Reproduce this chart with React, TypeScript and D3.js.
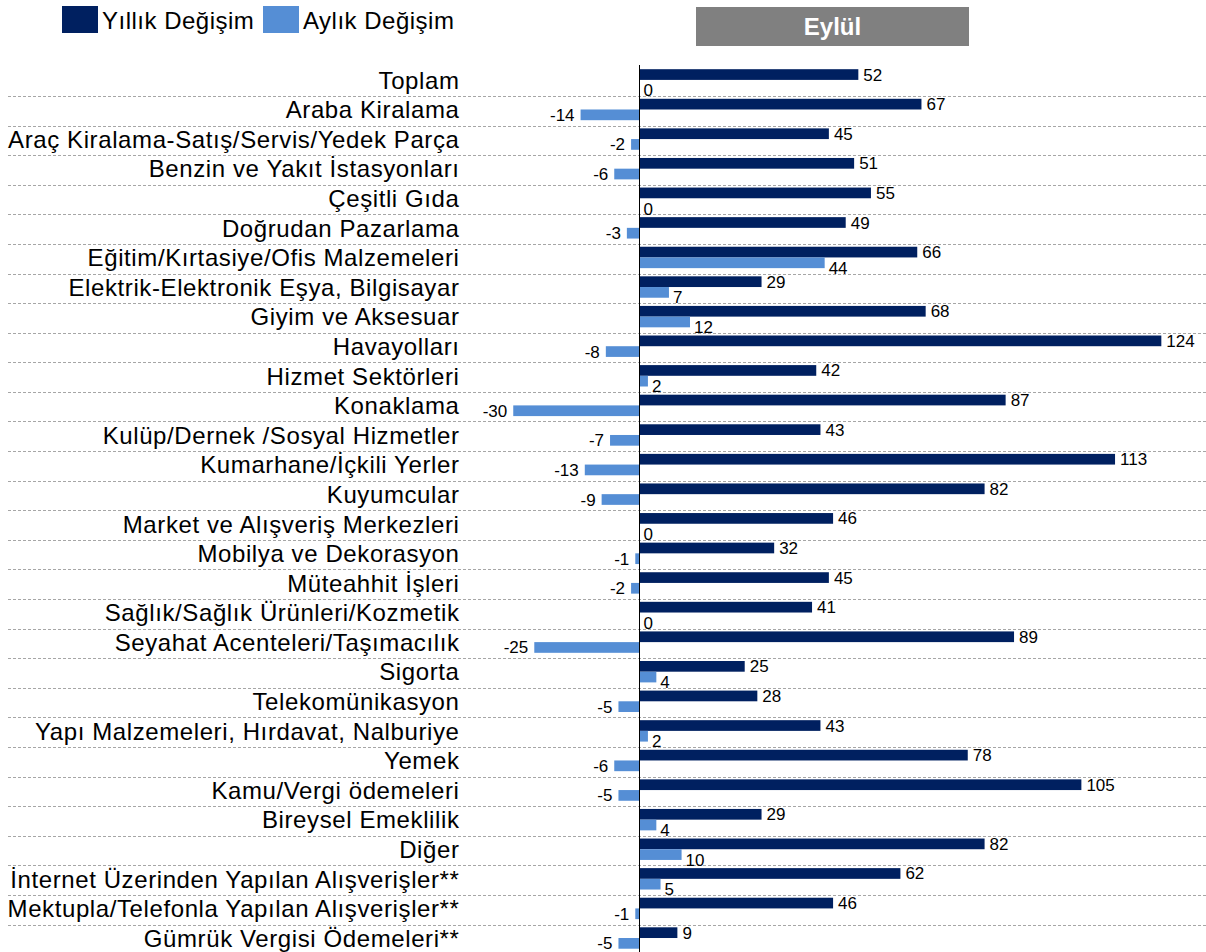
import React from "react";
import * as d3 from "d3";

const categories: string[] = [
  "Toplam",
  "Araba Kiralama",
  "Araç Kiralama-Satış/Servis/Yedek Parça",
  "Benzin ve Yakıt İstasyonları",
  "Çeşitli Gıda",
  "Doğrudan Pazarlama",
  "Eğitim/Kırtasiye/Ofis Malzemeleri",
  "Elektrik-Elektronik Eşya, Bilgisayar",
  "Giyim ve Aksesuar",
  "Havayolları",
  "Hizmet Sektörleri",
  "Konaklama",
  "Kulüp/Dernek /Sosyal Hizmetler",
  "Kumarhane/İçkili Yerler",
  "Kuyumcular",
  "Market ve Alışveriş Merkezleri",
  "Mobilya ve Dekorasyon",
  "Müteahhit İşleri",
  "Sağlık/Sağlık Ürünleri/Kozmetik",
  "Seyahat Acenteleri/Taşımacılık",
  "Sigorta",
  "Telekomünikasyon",
  "Yapı Malzemeleri, Hırdavat, Nalburiye",
  "Yemek",
  "Kamu/Vergi ödemeleri",
  "Bireysel Emeklilik",
  "Diğer",
  "İnternet Üzerinden Yapılan Alışverişler**",
  "Mektupla/Telefonla Yapılan Alışverişler**",
  "Gümrük Vergisi Ödemeleri**",
];

const yearly: number[] = [
  52, 67, 45, 51, 55, 49, 66, 29, 68, 124, 42, 87, 43, 113, 82, 46, 32, 45, 41, 89,
  25, 28, 43, 78, 105, 29, 82, 62, 46, 9,
];

const monthly: number[] = [
  0, -14, -2, -6, 0, -3, 44, 7, 12, -8, 2, -30, -7, -13, -9, 0, -1, -2, 0, -25, 4,
  -5, 2, -6, -5, 4, 10, 5, -1, -5,
];

const seriesNames: string[] = ["Yıllık Değişim", "Aylık Değişim"];
const panelTitle = "Eylül";

const DARK = "#002060";
const LIGHT = "#558ED5";
const FONT = "'Liberation Sans', Arial, sans-serif";

export default function App() {
  const W = 1206;
  const H = 952;
  const x = d3.scaleLinear().domain([-36, 132]).range([488, 1195]);
  const rowTop = 66.4;
  const pitch = 29.59;
  const y = d3
    .scaleBand<string>()
    .domain(categories)
    .range([rowTop, rowTop + pitch * categories.length])
    .padding(0);
  const x0 = x(0);
  const bw = y.bandwidth();

  return (
    <div style={{ position: "absolute", left: 0, top: 0 }}>
      <svg width={W} height={H} style={{ display: "block", fontFamily: FONT }}>
        <rect x={0} y={0} width={W} height={H} fill="#ffffff" />
        {/* legend */}
        <rect x={62} y={6} width={36} height={27} fill={DARK} />
        <text x={102} y={29} fontSize={24} letterSpacing={0.5} fill="#000">
          {seriesNames[0]}
        </text>
        <rect x={263} y={6} width={36} height={27} fill={LIGHT} />
        <text x={303} y={29} fontSize={24} letterSpacing={0.5} fill="#000">
          {seriesNames[1]}
        </text>
        {/* panel title */}
        <rect x={696} y={7} width={273} height={39} fill="#808080" />
        <text
          x={832.5}
          y={35}
          fontSize={24}
          fontWeight="bold"
          fill="#ffffff"
          textAnchor="middle"
        >
          {panelTitle}
        </text>
        {/* dashed separators */}
        {categories.slice(1).map((c) => (
          <line
            key={"g" + c}
            x1={8}
            x2={W}
            y1={Math.round(y(c)!) + 0.5}
            y2={Math.round(y(c)!) + 0.5}
            stroke="#a6a6a6"
            strokeWidth={1}
            strokeDasharray="3,2"
          />
        ))}
        {/* category labels */}
        {categories.map((c) => (
          <text
            key={"l" + c}
            x={459.5}
            y={y(c)! + bw / 2 + 7.5}
            fontSize={24}
            letterSpacing={0.6}
            textAnchor="end"
            fill="#000"
          >
            {c}
          </text>
        ))}
        {/* bars */}
        {categories.map((c, i) => {
          const top = y(c)!;
          const v1 = yearly[i];
          const v2 = monthly[i];
          const dy1 = top + 2.8;
          const dy2 = top + 13.5;
          const h = 10.7;
          return (
            <g key={"b" + c}>
              <rect
                x={Math.min(x(v1), x0)}
                y={dy1}
                width={Math.abs(x(v1) - x0)}
                height={h}
                fill={DARK}
              />
              <rect
                x={Math.min(x(v2), x0)}
                y={dy2}
                width={Math.abs(x(v2) - x0)}
                height={h}
                fill={LIGHT}
              />
              <text
                x={x(v1) + 5}
                y={dy1 + h / 2 + 6}
                fontSize={17}
                fill="#000"
              >
                {v1}
              </text>
              {v2 < 0 ? (
                <text
                  x={x(v2) - 6}
                  y={dy2 + h / 2 + 6}
                  fontSize={17}
                  textAnchor="end"
                  fill="#000"
                >
                  {v2}
                </text>
              ) : (
                <text
                  x={x(v2) + 4}
                  y={dy2 + h / 2 + 11}
                  fontSize={17}
                  fill="#000"
                >
                  {v2}
                </text>
              )}
            </g>
          );
        })}
        {/* zero axis */}
        <line x1={x0} x2={x0} y1={65} y2={H} stroke="#000" strokeWidth={1} />
      </svg>
    </div>
  );
}
